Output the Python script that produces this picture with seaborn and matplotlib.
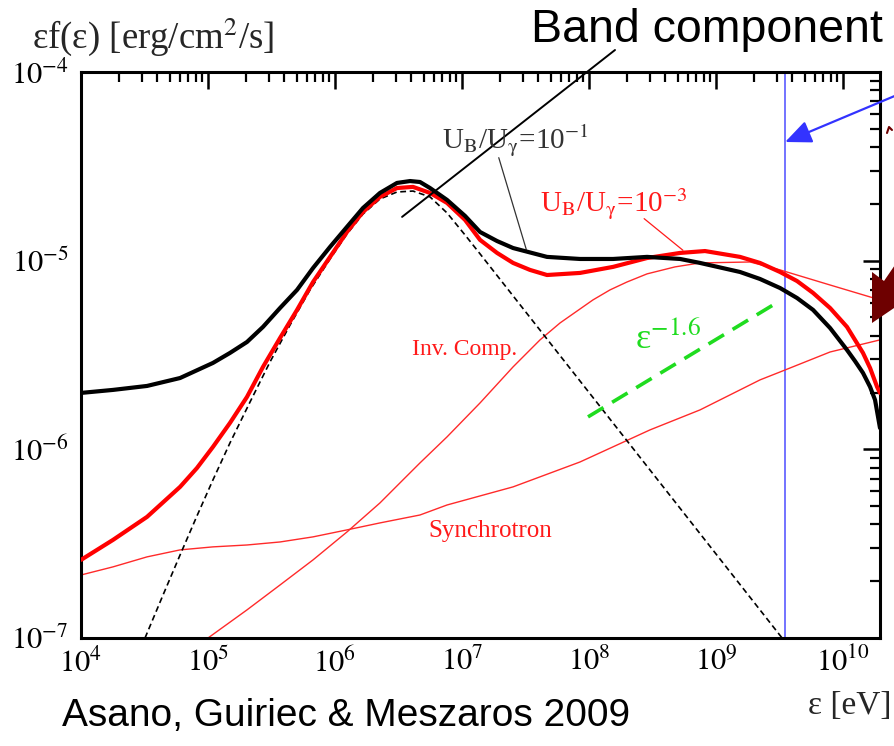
import numpy as np
import matplotlib
matplotlib.use("Agg")
import matplotlib.pyplot as plt
from matplotlib.patches import Polygon
from matplotlib.lines import Line2D
from matplotlib.ticker import FixedLocator, LogLocator, NullFormatter
import seaborn as sns

# log10 photon energy [eV] and log10 eps*f(eps) [erg/cm^2/s] along each curve
# total spectrum, U_B/U_gamma = 1e-1
black_log_e = [4.000, 4.252, 4.520, 4.780, 5.039, 5.173, 5.307, 5.433, 5.567, 5.701,
               5.827, 5.961, 6.094, 6.220, 6.354, 6.488, 6.591, 6.669, 6.748, 6.882,
               7.024, 7.142, 7.276, 7.402, 7.669, 7.929, 8.189, 8.457, 8.717, 8.874,
               9.189, 9.346, 9.504, 9.638, 9.764, 9.898, 10.031, 10.094, 10.157, 10.213,
               10.252, 10.291]
black_log_f = [-5.701, -5.685, -5.664, -5.622, -5.542, -5.489, -5.431, -5.351, -5.251, -5.155,
               -5.039, -4.927, -4.821, -4.721, -4.641, -4.588, -4.578, -4.583, -4.615, -4.678,
               -4.763, -4.848, -4.896, -4.933, -4.980, -4.991, -4.991, -4.980, -4.991, -5.012,
               -5.060, -5.097, -5.145, -5.198, -5.261, -5.357, -5.473, -5.532, -5.595, -5.669,
               -5.738, -5.887]

# total spectrum, U_B/U_gamma = 1e-3
red_log_e = [4.000, 4.252, 4.520, 4.780, 4.913, 5.039, 5.173, 5.307, 5.433, 5.567,
             5.701, 5.827, 5.961, 6.094, 6.220, 6.354, 6.488, 6.614, 6.748, 6.882,
             7.024, 7.142, 7.276, 7.402, 7.535, 7.669, 7.929, 8.189, 8.457, 8.717,
             8.913, 9.189, 9.346, 9.504, 9.638, 9.764, 9.898, 10.031, 10.157, 10.213,
             10.268, 10.291]
red_log_f = [-6.586, -6.480, -6.358, -6.199, -6.099, -5.987, -5.860, -5.722, -5.563, -5.410,
             -5.261, -5.113, -4.980, -4.848, -4.742, -4.662, -4.615, -4.609, -4.641, -4.694,
             -4.784, -4.890, -4.959, -5.012, -5.049, -5.076, -5.065, -5.033, -4.986, -4.959,
             -4.949, -4.980, -5.012, -5.060, -5.108, -5.171, -5.251, -5.351, -5.489, -5.569,
             -5.669, -5.701]

# Band component
band_log_e = [4.504, 4.646, 4.780, 4.913, 5.039, 5.173, 5.331, 5.488, 5.646, 5.803,
              5.961, 6.094, 6.220, 6.354, 6.488, 6.614, 6.748, 6.882, 7.024, 7.142, 9.520]
band_log_f = [-7.000, -6.772, -6.560, -6.353, -6.162, -5.966, -5.749, -5.537, -5.341, -5.155,
              -4.991, -4.859, -4.753, -4.673, -4.636, -4.631, -4.662, -4.747, -4.864, -4.964,
              -7.000]

# inverse Compton component
ic_log_e = [5.000, 5.307, 5.567, 5.827, 6.094, 6.354, 6.535, 6.669, 6.882, 7.142,
            7.402, 7.614, 7.772, 8.031, 8.165, 8.299, 8.457, 8.677, 8.874, 9.268,
            9.504, 9.898, 10.291]
ic_log_f = [-7.000, -6.851, -6.719, -6.586, -6.438, -6.284, -6.162, -6.072, -5.934, -5.754,
            -5.563, -5.420, -5.330, -5.208, -5.155, -5.113, -5.070, -5.033, -5.012, -5.007,
            -5.049, -5.129, -5.208]

# synchrotron component
syn_log_e = [4.000, 4.252, 4.520, 4.780, 5.039, 5.307, 5.567, 5.827, 6.094, 6.354,
             6.669, 6.882, 7.402, 7.929, 8.480, 8.874, 9.346, 9.504, 9.898, 10.291]
syn_log_f = [-6.666, -6.623, -6.570, -6.533, -6.517, -6.507, -6.491, -6.464, -6.427, -6.390,
             -6.348, -6.295, -6.199, -6.067, -5.897, -5.791, -5.632, -5.590, -5.484, -5.420]

# photon index -1.6 guide
slope_log_e = [7.992, 9.488]
slope_log_f = [-5.828, -5.219]

lat_energy = 3.5e9  # vertical marker [eV]

x_ticks = [1e4, 1e5, 1e6, 1e7, 1e8, 1e9, 1e10]
y_ticks = [1e-7, 1e-6, 1e-5, 1e-4]

sns.set_theme(style="white")
plt.rcParams["font.family"] = ["Liberation Serif", "DejaVu Serif"]
plt.rcParams["mathtext.fontset"] = "stix"
plt.rcParams["axes.edgecolor"] = "black"

W, H = 895, 746
fig = plt.figure(figsize=(W / 100, H / 100), dpi=100)
ax = fig.add_axes([81 / W, 1 - 638 / H, 799 / W, 566 / H])


def fx(x, y):
    """pixel position (from top-left) -> figure fraction"""
    return (x / W, 1 - y / H)


def draw(log_e, log_f, **kw):
    sns.lineplot(x=10.0 ** np.asarray(log_e), y=10.0 ** np.asarray(log_f),
                 ax=ax, sort=False, estimator=None, legend=False, **kw)


ax.set_xscale("log")
ax.set_yscale("log")

draw(syn_log_e, syn_log_f, color="#ff2a2a", linewidth=1.0, zorder=2)
draw(ic_log_e, ic_log_f, color="#ff2a2a", linewidth=1.0, zorder=2)
draw(band_log_e, band_log_f, color="black", linewidth=1.2,
     linestyle=(0, (3.5, 2.2)), zorder=3)
draw(red_log_e, red_log_f, color="#ff0000", linewidth=3.0, zorder=4)
draw(black_log_e, black_log_f, color="black", linewidth=3.0, zorder=5)
draw(slope_log_e, slope_log_f, color="#1fdc1f", linewidth=2.6,
     linestyle=(0, (5.0, 2.8)), zorder=6)
ax.axvline(lat_energy, color="#4d4dff", linewidth=1.1, zorder=1)

ax.set_xlim(1e4, 10 ** 10.291)
ax.set_ylim(1e-7, 1e-4)
ax.set_xlabel("")
ax.set_ylabel("")

ax.xaxis.set_major_locator(FixedLocator(x_ticks))
ax.yaxis.set_major_locator(FixedLocator(y_ticks))
ax.set_xticklabels([r"$10^{%d}$" % round(np.log10(v)) for v in x_ticks])
ax.set_yticklabels([r"$10^{%d}$" % round(np.log10(v)) for v in y_ticks])
for axis in (ax.xaxis, ax.yaxis):
    axis.set_minor_locator(LogLocator(base=10, subs=np.arange(2, 10), numticks=20))
    axis.set_minor_formatter(NullFormatter())

for s in ax.spines.values():
    s.set_linewidth(2.2)
    s.set_color("black")
ax.tick_params(which="both", direction="in", top=True, right=True, colors="black")
ax.tick_params(which="major", length=12, width=1.8, labelsize=22, pad=7)
ax.tick_params(which="minor", length=7.5, width=1.6)
ax.tick_params(axis="y", pad=9)

# axis titles
fig.text(*fx(32, 37), r"εf(ε) [erg/cm$^2$/s]", ha="left", va="center", fontsize=26.5)
fig.text(*fx(850, 706), "ε [eV]", ha="center", va="center", fontsize=24)

# curve labels
fig.text(*fx(442, 141), r"U$_\mathrm{B}$/U$_\mathrm{γ}$=10$^{-1}$", ha="left", va="center",
         fontsize=21, color="#333333")
fig.text(*fx(540, 204), r"U$_\mathrm{B}$/U$_\mathrm{γ}$=10$^{-3}$", ha="left", va="center",
         fontsize=21, color="#ff1a1a")
fig.text(*fx(465, 350), "Inv. Comp.", ha="center", va="center", fontsize=17, color="#ff1a1a")
fig.text(*fx(490, 531), "Synchrotron", ha="center", va="center", fontsize=18, color="#ff1a1a")
fig.text(*fx(635, 338), r"ε$^{-1.6}$", ha="left", va="center", fontsize=26, color="#1fdc1f")

# leader lines
ax.annotate("", xy=(10 ** 7.512, 10 ** -4.954), xytext=(10 ** 7.283, 10 ** -4.440),
            arrowprops=dict(arrowstyle="-", color="#333333", lw=0.9))
ax.annotate("", xy=(10 ** 8.756, 10 ** -4.954), xytext=(10 ** 8.417, 10 ** -4.768),
            arrowprops=dict(arrowstyle="-", color="#ff1a1a", lw=0.9))

# callouts
fig.text(*fx(707, 30), "Band component", ha="center", va="center", fontsize=33.5,
         family="Liberation Sans", color="black")
ax.annotate("", xy=(10 ** 6.528, 10 ** -4.768), xycoords="data",
            xytext=fx(615, 50), textcoords="figure fraction",
            arrowprops=dict(arrowstyle="-", color="black", lw=1.4, shrinkA=0, shrinkB=0),
            annotation_clip=False, zorder=7)
ax.annotate("", xy=(lat_energy, 10 ** -4.371), xycoords="data",
            xytext=fx(897, 95), textcoords="figure fraction",
            arrowprops=dict(arrowstyle="-|>,head_length=0.8,head_width=0.35",
                            mutation_scale=20, color="#3333ff", lw=1.6,
                            shrinkA=0, shrinkB=0),
            annotation_clip=False, zorder=7)

fig.add_artist(Polygon([fx(872, 272), fx(884, 281), fx(897, 262), fx(897, 306), fx(872, 323)],
                       closed=True, transform=fig.transFigure, facecolor="#6e0000",
                       edgecolor="none", zorder=10))
fig.add_artist(Line2D([887 / W, 889 / W, 892 / W], [1 - 133 / H, 1 - 127 / H, 1 - 130 / H],
                      transform=fig.transFigure, color="#6e0000", lw=1.5, zorder=10))

fig.text(*fx(62, 716), "Asano, Guiriec & Meszaros 2009", ha="left", va="center",
         fontsize=28, family="Liberation Sans", color="black")

fig.savefig("out.png", dpi=100)
